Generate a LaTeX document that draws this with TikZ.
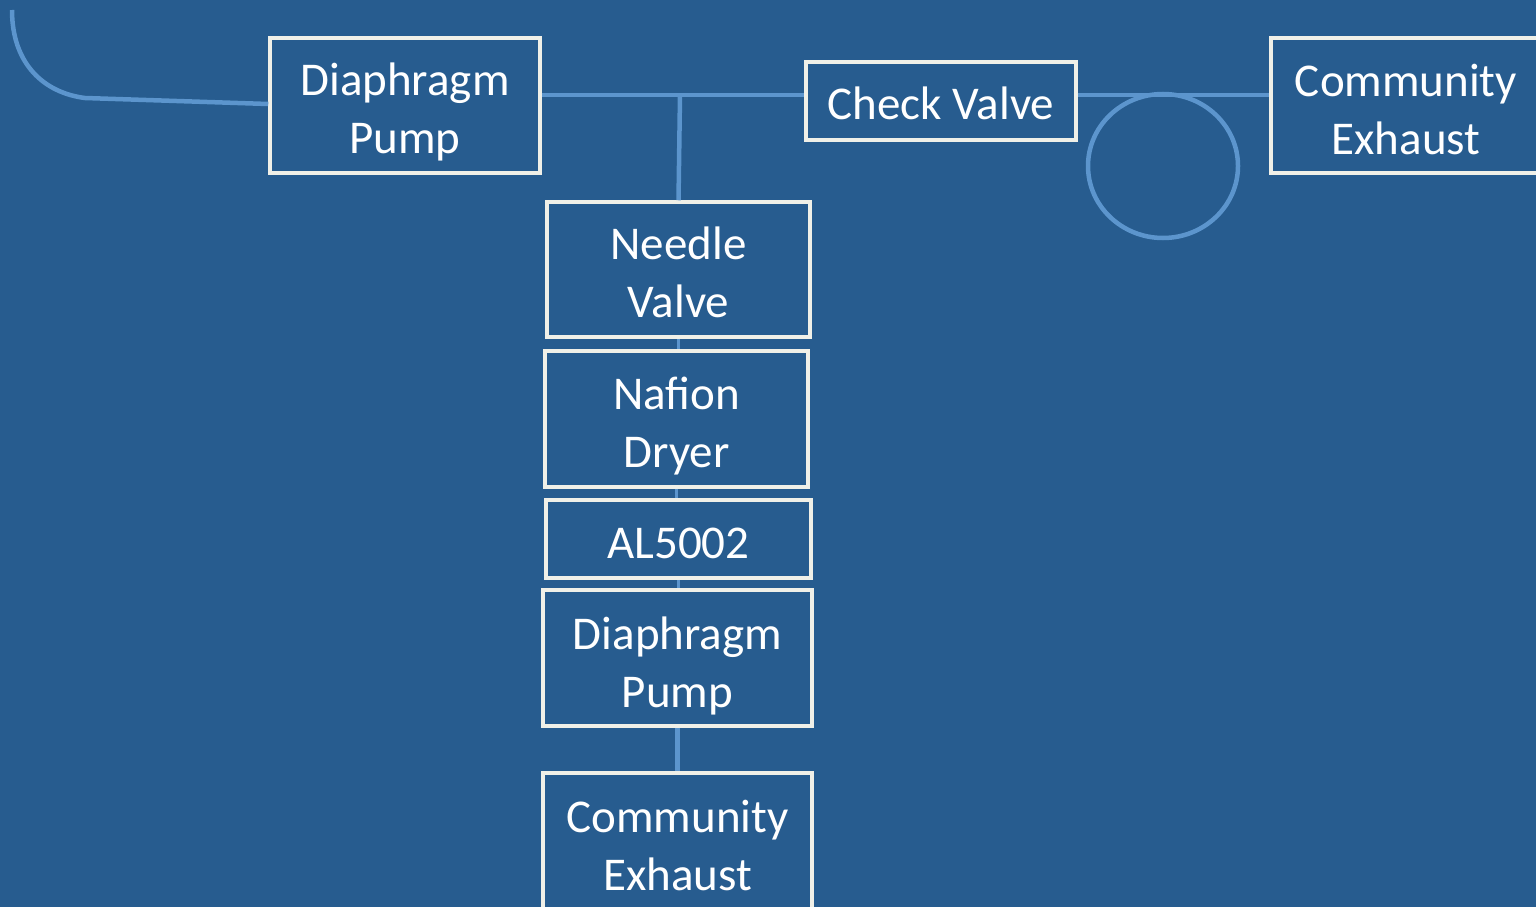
\documentclass[tikz,border=0pt]{standalone}
\usepackage{fontspec}
\setmainfont{Carlito}
\definecolor{bgblue}{HTML}{275C8F}
\definecolor{pipe}{HTML}{5C95CD}
\definecolor{boxline}{HTML}{F0F0E8}
\begin{document}
\begin{tikzpicture}[x=1pt,y=-1pt,
  box/.style={draw=boxline, line width=3.5pt, inner sep=0pt},
  txt/.style={text=white, align=center, inner sep=0pt, font=\fontsize{47}{58}\selectfont},
  pipeline/.style={draw=pipe, line width=4.5pt}]
\fill[bgblue] (0,0) rectangle (1536,907);
\useasboundingbox (0,0) rectangle (1536,907);
% boxes
\node[box, minimum width=270pt, minimum height=135pt,
  label={[txt, yshift=-6pt]center:{Diaphragm\\Pump}}] (dp1) at (405,105.5) {};
\node[box, minimum width=270pt, minimum height=78pt,
  label={[txt, yshift=-2pt]center:{Check Valve}}] (cv) at (941,101) {};
\node[box, minimum width=270pt, minimum height=135pt,
  label={[txt, yshift=-4pt]center:{Community\\Exhaust}}] (ce1) at (1406,105.5) {};
\node[box, minimum width=263pt, minimum height=135pt,
  label={[txt, yshift=-3pt]center:{Needle\\Valve}}] (nv) at (678.5,269.5) {};
\node[box, minimum width=263pt, minimum height=136pt,
  label={[txt, yshift=-7pt]center:{Nafion\\Dryer}}] (nd) at (676.5,419) {};
\node[box, minimum width=265pt, minimum height=78pt,
  label={[txt, yshift=-4pt]center:{AL5002}}] (al) at (678.5,539) {};
\node[box, minimum width=269pt, minimum height=136pt,
  label={[txt, yshift=-8pt]center:{Diaphragm\\Pump}}] (dp2) at (677.5,658) {};
\node[box, minimum width=269pt, minimum height=136pt,
  label={[txt, yshift=-4pt]center:{Community\\Exhaust}}] (ce2) at (677.5,841) {};
% free end / junctions
\coordinate (start) at (12,10);
\coordinate (bend) at (85,98);
\coordinate (tee) at (680,95);
% pipes
\draw[pipeline] (start) .. controls (12,65) and (45,93) .. (bend) -- (dp1.west |- 0,104);
\draw[pipeline] (dp1.east |- tee) -- (tee) -- (cv.west |- tee);
\draw[pipeline] (tee) -- (nv.north);
\draw[pipeline] (cv.east |- tee) -- (ce1.west |- tee);
\draw[pipeline] (1163,166) ellipse [x radius=75pt, y radius=72pt];
\draw[pipeline, line width=3.5pt] (nv.south) -- (nd.north -| nv.south);
\draw[pipeline, line width=3.5pt] (nd.south) -- (al.north -| nd.south);
\draw[pipeline, line width=3.5pt] (al.south) -- (dp2.north -| al.south);
\draw[pipeline] (dp2.south) -- (ce2.north);
\end{tikzpicture}
\end{document}
